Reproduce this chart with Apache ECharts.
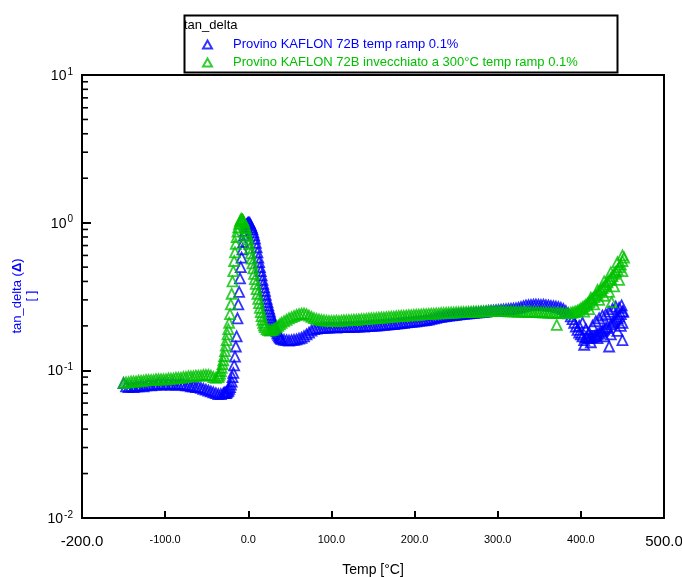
<!DOCTYPE html>
<html>
<head>
<meta charset="utf-8">
<script src="https://cdn.jsdelivr.net/npm/echarts@6/dist/echarts.min.js"></script>
<style>html,body{margin:0;padding:0;background:#fff}#c{width:682px;height:577px}</style>
</head>
<body>
<div id="c"></div>
<script>
const seriesNames = ['Provino KAFLON 72B temp ramp 0.1%', 'Provino KAFLON 72B invecchiato a 300°C temp ramp 0.1%'];
const seriesColors = ['#0000ff', '#00c000'];
const xTicks = [-200, -100, 0, 100, 200, 300, 400, 500];
const yMinorTicks = [0.02,0.03,0.04,0.05,0.06,0.07,0.08,0.09,0.2,0.3,0.4,0.5,0.6,0.7,0.8,0.9,2,3,4,5,6,7,8,9];

// [Temp °C, tan_delta]
const blueData = [
[-150,0.082],[-147,0.078],[-144,0.077],[-141,0.078],[-138,0.077],[-135,0.078],[-132,0.078],[-129,0.079],[-126,0.078],[-123,0.079],
[-120,0.080],[-117,0.079],[-114,0.080],[-111,0.080],[-108,0.081],[-105,0.080],[-102,0.081],[-99,0.080],[-96,0.081],[-93,0.080],
[-90,0.081],[-87,0.080],[-84,0.080],[-81,0.081],[-78,0.080],[-75,0.079],[-72,0.079],[-69,0.078],[-66,0.078],[-63,0.077],
[-60,0.077],[-57,0.076],[-54,0.075],[-51,0.074],[-48,0.073],[-45,0.072],[-42,0.071],[-39,0.070],[-36,0.069],[-33,0.069],
[-30,0.070],[-29,0.070],[-28,0.071],[-27,0.070],[-26,0.071],[-25,0.072],[-24,0.073],[-23,0.075],[-22,0.077],[-21,0.080],
[-20,0.084],[-19,0.090],[-18,0.096],[-17,0.108],[-16,0.124],[-15,0.145],[-14,0.170],[-13,0.225],[-12,0.28],[-11,0.34],
[-10,0.42],[-9,0.50],[-8,0.58],[-7,0.66],[-6,0.74],[-5,0.82],[-4,0.88],[-3,0.93],[-2,0.97],[-1,0.99],
[0,1.00],[1,1.00],[2,0.99],[3,0.96],[4,0.93],[5,0.90],[6,0.86],[7,0.82],[8,0.78],[9,0.73],
[10,0.68],[11,0.63],[12,0.58],[13,0.54],[14,0.50],[15,0.47],[16,0.44],[17,0.41],[18,0.385],[19,0.365],
[20,0.345],[21,0.325],[22,0.305],[23,0.29],[24,0.275],[25,0.262],[26,0.25],[27,0.238],[28,0.228],[29,0.218],
[30,0.21],[31,0.203],[32,0.196],[33,0.19],[34,0.184],[35,0.178],[36,0.174],[37,0.17],[38,0.167],[39,0.165],
[40,0.163],[43,0.161],[46,0.160],[49,0.159],[52,0.160],[55,0.161],[58,0.162],[61,0.164],[64,0.166],[67,0.170],
[70,0.175],[73,0.180],[76,0.186],[79,0.190],[82,0.192],[85,0.193],[88,0.194],[91,0.194],[94,0.195],[97,0.195],
[100,0.196],[103,0.196],[106,0.195],[109,0.196],[112,0.197],[115,0.196],[118,0.197],[121,0.197],[124,0.198],[127,0.197],
[130,0.198],[133,0.198],[136,0.199],[139,0.198],[142,0.199],[145,0.200],[148,0.200],[151,0.201],[154,0.201],[157,0.202],
[160,0.203],[163,0.203],[166,0.204],[169,0.205],[172,0.206],[175,0.206],[178,0.207],[181,0.208],[184,0.209],[187,0.210],
[190,0.211],[193,0.212],[196,0.213],[199,0.214],[202,0.215],[205,0.216],[208,0.217],[211,0.218],[214,0.219],[217,0.221],
[220,0.223],[223,0.225],[226,0.227],[229,0.229],[232,0.230],[235,0.232],[238,0.233],[241,0.235],[244,0.236],[247,0.237],
[250,0.238],[253,0.239],[256,0.240],[259,0.241],[262,0.242],[265,0.243],[268,0.244],[271,0.245],[274,0.246],[277,0.247],
[280,0.248],[283,0.249],[286,0.250],[289,0.252],[292,0.253],[295,0.254],[298,0.255],[301,0.256],[304,0.257],[307,0.258],
[310,0.259],[313,0.260],[316,0.261],[319,0.262],[322,0.263],[325,0.265],[328,0.268],[331,0.272],[334,0.275],[337,0.276],
[340,0.277],[343,0.278],[346,0.279],[349,0.278],[352,0.277],[355,0.278],[358,0.276],[361,0.275],[364,0.273],[367,0.272],
[370,0.270],[373,0.268],[376,0.265],[379,0.26],[382,0.252],[385,0.243],[388,0.232],[390,0.222],[392,0.210],[394,0.198],
[396,0.188],[398,0.180],[400,0.175],[402,0.170],[404,0.149],[406,0.168],[408,0.166],[410,0.165],[412,0.167],[414,0.168],
[416,0.170],[418,0.172],[420,0.175],[422,0.178],[424,0.182],[426,0.185],[428,0.189],[430,0.193],[432,0.197],[434,0.145],
[436,0.205],[438,0.210],[440,0.215],[442,0.220],[444,0.226],[446,0.232],[448,0.240],[449,0.275],[450,0.160],[451,0.250],
[398,0.20],[402,0.21],[406,0.19],[410,0.18],[414,0.20],[418,0.215],[422,0.225],[426,0.235],[430,0.24],[434,0.25],
[438,0.26],[442,0.27],[446,0.265],[450,0.25],[404,0.16],[412,0.155],[420,0.165],[428,0.17],[436,0.175],[444,0.185],
[448,0.20],[450,0.21]
];

const greenData = [
[-150,0.082],[-147,0.083],[-144,0.083],[-141,0.084],[-138,0.084],[-135,0.084],[-132,0.085],[-129,0.085],[-126,0.085],[-123,0.086],
[-120,0.086],[-117,0.086],[-114,0.086],[-111,0.087],[-108,0.087],[-105,0.087],[-102,0.087],[-99,0.087],[-96,0.088],[-93,0.088],
[-90,0.088],[-87,0.089],[-84,0.089],[-81,0.089],[-78,0.090],[-75,0.090],[-72,0.091],[-69,0.091],[-66,0.091],[-63,0.092],
[-60,0.092],[-57,0.092],[-54,0.093],[-51,0.093],[-48,0.093],[-45,0.092],[-42,0.090],[-39,0.089],[-36,0.090],[-35,0.092],
[-34,0.095],[-33,0.099],[-32,0.104],[-31,0.110],[-30,0.117],[-29,0.125],[-28,0.135],[-27,0.147],[-26,0.160],[-25,0.175],
[-24,0.19],[-23,0.21],[-22,0.24],[-21,0.28],[-20,0.33],[-19,0.40],[-18,0.47],[-17,0.55],[-16,0.63],[-15,0.72],
[-14,0.80],[-13,0.87],[-12,0.93],[-11,0.98],[-10,1.02],[-9,1.05],[-8,1.06],[-7,1.05],[-6,1.03],[-5,1.00],
[-4,0.96],[-3,0.92],[-2,0.87],[-1,0.82],[0,0.77],[1,0.72],[2,0.67],[3,0.62],[4,0.57],[5,0.53],
[6,0.49],[7,0.45],[8,0.415],[9,0.385],[10,0.355],[11,0.33],[12,0.305],[13,0.285],[14,0.265],[15,0.248],
[16,0.233],[17,0.22],[18,0.21],[19,0.202],[20,0.196],[22,0.19],[24,0.187],[26,0.186],[28,0.187],[30,0.189],
[32,0.192],[34,0.196],[36,0.200],[38,0.205],[40,0.210],[43,0.215],[46,0.220],[49,0.225],[52,0.229],[55,0.233],
[58,0.237],[61,0.240],[64,0.242],[67,0.243],[70,0.240],[73,0.235],[76,0.230],[79,0.226],[82,0.223],[85,0.221],
[88,0.219],[91,0.218],[94,0.217],[97,0.216],[100,0.216],[103,0.216],[106,0.217],[109,0.216],[112,0.217],[115,0.218],
[118,0.218],[121,0.219],[124,0.219],[127,0.220],[130,0.220],[133,0.221],[136,0.222],[139,0.222],[142,0.223],[145,0.224],
[148,0.225],[151,0.225],[154,0.226],[157,0.227],[160,0.228],[163,0.228],[166,0.229],[169,0.230],[172,0.231],[175,0.231],
[178,0.232],[181,0.233],[184,0.234],[187,0.234],[190,0.235],[193,0.236],[196,0.236],[199,0.237],[202,0.238],[205,0.238],
[208,0.239],[211,0.240],[214,0.240],[217,0.241],[220,0.242],[223,0.242],[226,0.243],[229,0.243],[232,0.244],[235,0.244],
[238,0.245],[241,0.245],[244,0.246],[247,0.246],[250,0.247],[253,0.247],[256,0.248],[259,0.248],[262,0.248],[265,0.249],
[268,0.249],[271,0.250],[274,0.250],[277,0.250],[280,0.251],[283,0.251],[286,0.251],[289,0.252],[292,0.252],[295,0.252],
[298,0.252],[301,0.252],[304,0.252],[307,0.252],[310,0.252],[313,0.251],[316,0.251],[319,0.251],[322,0.251],[325,0.250],
[328,0.250],[331,0.250],[334,0.249],[337,0.249],[340,0.249],[343,0.248],[346,0.248],[349,0.248],[352,0.247],[355,0.247],
[358,0.247],[361,0.246],[364,0.246],[367,0.245],[370,0.245],[371,0.203],[373,0.245],[376,0.244],[379,0.244],[382,0.244],
[385,0.244],[388,0.245],[390,0.246],[392,0.248],[394,0.250],[396,0.253],[398,0.257],[400,0.262],[402,0.267],[404,0.272],
[406,0.278],[408,0.284],[410,0.290],[412,0.297],[414,0.305],[416,0.313],[418,0.322],[420,0.331],[422,0.340],[424,0.350],
[426,0.360],[428,0.370],[430,0.382],[432,0.395],[434,0.408],[436,0.420],[438,0.435],[440,0.450],[442,0.465],[444,0.480],
[446,0.500],[448,0.520],[450,0.550],[452,0.580],
[404,0.25],[410,0.26],[416,0.28],[422,0.30],[428,0.32],[434,0.34],[440,0.37],[446,0.41],[450,0.47],[412,0.31],
[420,0.35],[428,0.40],[436,0.46],[444,0.54],[450,0.60],[437,0.29]
];

const FONT = "Arial, 'Liberation Sans', sans-serif";
const chart = echarts.init(document.getElementById('c'), null, {renderer: 'canvas'});

function mkScatter(i, data) {
  return {
    name: seriesNames[i],
    type: 'scatter',
    data: data,
    symbol: 'triangle',
    symbolSize: 10,
    itemStyle: {color: 'rgba(255,255,255,0)', borderColor: seriesColors[i], borderWidth: 1.8},
    emphasis: {disabled: true},
    z: 2 + i
  };
}

chart.setOption({
  animation: false,
  backgroundColor: '#fff',
  grid: {left: 82, right: 18, top: 75, bottom: 59, containLabel: false, outerBoundsMode: 'none',
         show: true, borderColor: '#000', borderWidth: 2, backgroundColor: 'transparent'},
  legend: {
    orient: 'vertical', left: 202, top: 37, itemGap: 3, padding: 0,
    itemWidth: 9, itemHeight: 8,
    selectedMode: false,
    formatter: function (name) { return '{g|}{t|' + name + '}'; },
    textStyle: {fontFamily: FONT, fontSize: 13, lineHeight: 15,
      rich: {g: {width: 16, lineHeight: 15}, t: {fontFamily: FONT, fontSize: 13, lineHeight: 15}}},
    data: [
      {name: seriesNames[0], textStyle: {color: seriesColors[0], rich: {t: {color: seriesColors[0], fontFamily: FONT, fontSize: 13, lineHeight: 15}}}},
      {name: seriesNames[1], textStyle: {color: seriesColors[1], rich: {t: {color: seriesColors[1], fontFamily: FONT, fontSize: 13, lineHeight: 15}}}}
    ]
  },
  xAxis: {
    type: 'value', min: xTicks[0], max: xTicks[xTicks.length - 1], interval: 100,
    name: 'Temp [°C]', nameLocation: 'middle', nameGap: 45,
    nameTextStyle: {fontFamily: FONT, fontSize: 14, color: '#000'},
    axisLine: {show: true, onZero: false, lineStyle: {color: '#000', width: 2}},
    axisTick: {show: true, inside: true, length: 7, lineStyle: {color: '#000', width: 2}},
    splitLine: {show: false},
    axisLabel: {
      margin: 16, color: '#000', fontFamily: FONT,
      formatter: function (v) {
        const s = v.toFixed(1);
        return (v === xTicks[0] || v === xTicks[xTicks.length - 1]) ? '{big|' + s + '}' : '{sm|' + s + '}';
      },
      rich: {big: {fontSize: 15, fontFamily: FONT, color: '#000'}, sm: {fontSize: 11, fontFamily: FONT, color: '#000'}}
    }
  },
  yAxis: {
    type: 'log', logBase: 10, min: 0.01, max: 10,
    axisLine: {show: true, onZero: false, lineStyle: {color: '#000', width: 2}},
    axisTick: {show: true, inside: true, length: 9, lineStyle: {color: '#000', width: 2}},
    minorTick: {show: false},
    splitLine: {show: false},
    axisLabel: {
      margin: 9, fontFamily: FONT, color: '#000',
      formatter: function (v) {
        const e = Math.round(Math.log10(v));
        return '{b|10}{s|' + e + '}';
      },
      rich: {
        b: {fontSize: 14, fontFamily: FONT, color: '#000', lineHeight: 16, verticalAlign: 'bottom'},
        s: {fontSize: 10, fontFamily: FONT, color: '#000', lineHeight: 16, verticalAlign: 'top', padding: [0, 0, 10, 1]}
      }
    }
  },
  graphic: [
    {type: 'rect', left: 182, top: 13, shape: {width: 433, height: 57}, style: {fill: 'none', stroke: '#000', lineWidth: 2}, z: 10},
    {type: 'text', left: 184, top: 19, style: {text: 'tan_delta', fill: '#000', font: '13px ' + FONT}, z: 10},
    {type: 'text', x: 24, y: 296, rotation: Math.PI / 2, z: 10,
     style: {
       text: '{a|tan_delta (}{b|Δ}{a|)}\n{a|[ ]}',
       align: 'center', verticalAlign: 'middle', fill: '#0000ff',
       rich: {a: {fill: '#0000ff', fontFamily: FONT, fontSize: 13, lineHeight: 14, align: 'center'},
              b: {fill: '#0000ff', fontFamily: FONT, fontSize: 13, fontWeight: 'bold', lineHeight: 14}}
     }}
  ],
  series: [
    mkScatter(0, blueData),
    mkScatter(1, greenData),
    {
      type: 'custom', name: 'minor', silent: true, clip: false, z: 5,
      data: yMinorTicks.map(v => [xTicks[0], v]),
      encode: {x: 0, y: 1},
      renderItem: function (params, api) {
        const p = api.coord([api.value(0), api.value(1)]);
        return {type: 'line', shape: {x1: p[0], y1: p[1], x2: p[0] + 6, y2: p[1]}, style: {stroke: '#000', lineWidth: 1.6}};
      }
    }
  ]
});
</script>
</body>
</html>
